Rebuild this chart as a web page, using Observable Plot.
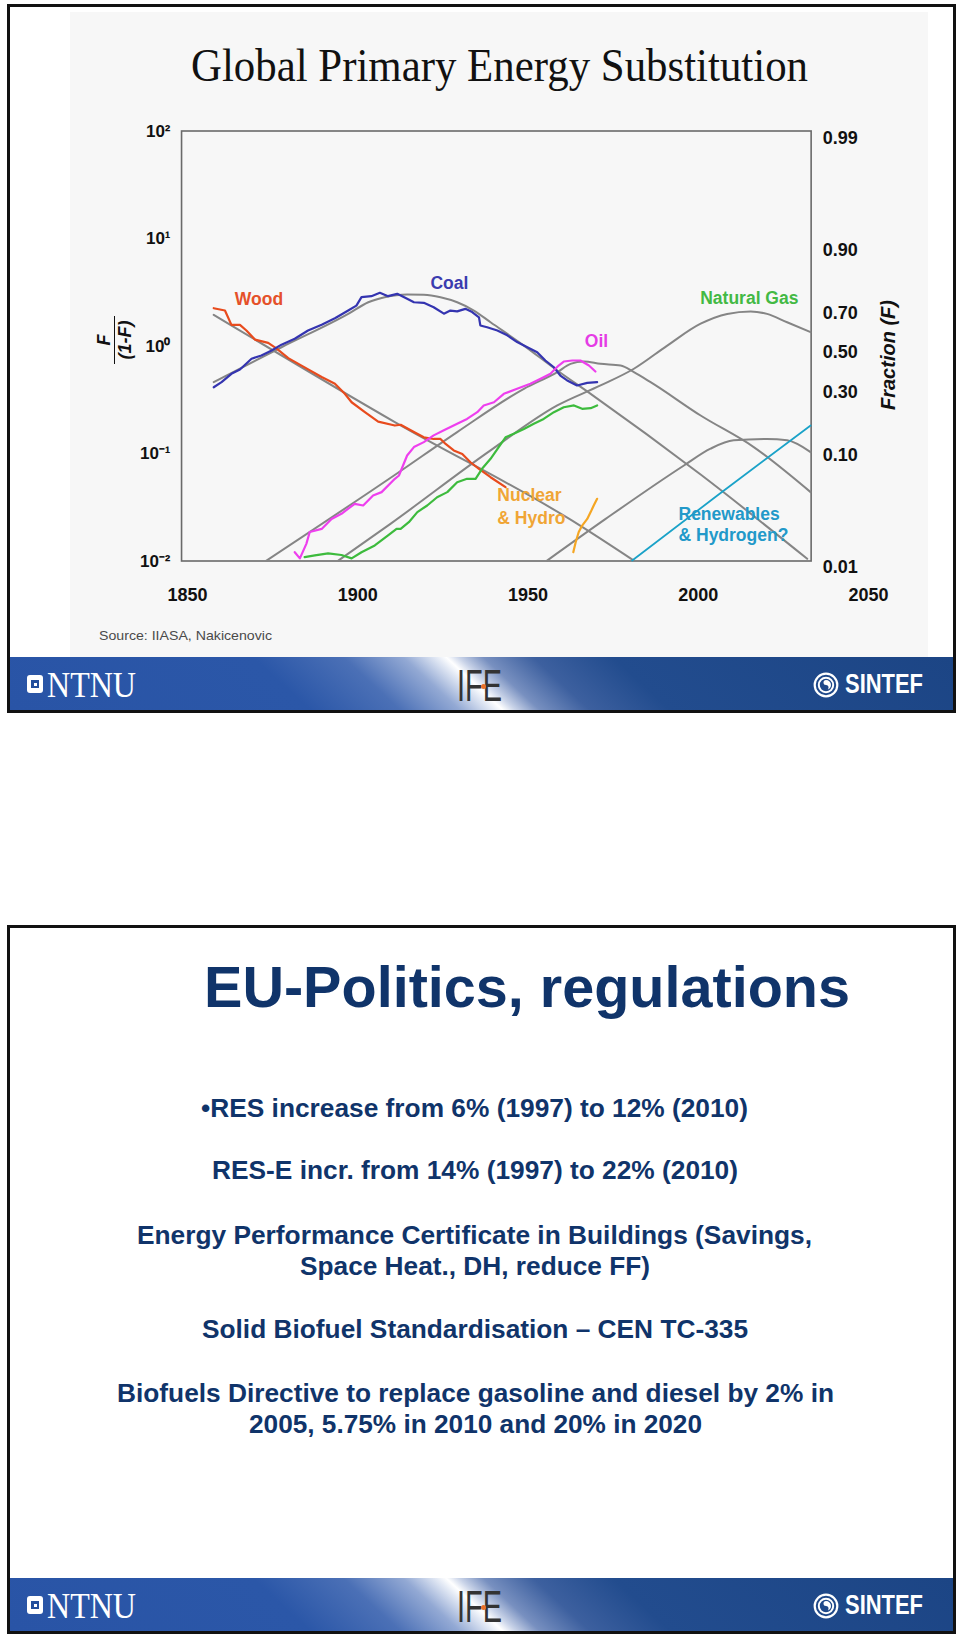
<!DOCTYPE html>
<html>
<head>
<meta charset="utf-8">
<script src="https://cdn.jsdelivr.net/npm/d3@7"></script>
<script src="https://cdn.jsdelivr.net/npm/@observablehq/plot@0.6"></script>
<style>
html,body{margin:0;padding:0;background:#fff;}
body{position:relative;width:960px;height:1641px;overflow:hidden;font-family:"Liberation Sans",Arial,sans-serif;}
.slide{position:absolute;left:7px;width:949px;height:709px;border:3px solid #111;box-sizing:border-box;background:#fff;}
.panel{position:absolute;left:70px;top:12px;width:858px;height:645px;background:#f7f7f7;}
.footer{position:absolute;left:10px;width:943px;height:53px;
  background:linear-gradient(43deg,#2954a6 0%,#2b57a8 30%,#4b70b6 39%,#93a9d4 45%,#e4eaf5 48.3%,#ffffff 49.3%,#c9d3e8 50.6%,#7890c0 53%,#3d609f 58%,#224c8e 66%,#1c4585 100%);}
#chart{position:absolute;left:0;top:0;}
#chart text{font-weight:bold;}
.rot{position:absolute;transform-origin:50% 50%;white-space:nowrap;}
</style>
</head>
<body>
<div class="slide" style="top:4px"></div>
<div class="panel"></div>
<div class="footer" style="top:657px"></div>
<div class="slide" style="top:925px;background:transparent"></div>
<div class="footer" style="top:1578px"></div>
<div id="chart"></div>
<script>
// ---------- data ----------
const xTicks = [1850, 1900, 1950, 2000, 2050];
const yTicks = [0.01, 0.1, 1, 10, 100];
const yTickLabels = ["10\u207B\u00B2", "10\u207B\u00B9", "10\u2070", "10\u00B9", "10\u00B2"];
const fractionTicks = [0.99, 0.90, 0.70, 0.50, 0.30, 0.10, 0.01];
const frameYears = [1848.4, 2033.3];

// historical series: [year, F/(1-F)]
const woodHistory = [[1857.7,2.27],[1861.0,2.16],[1862.9,1.59],[1865.4,1.59],[1867.3,1.41],[1869.8,1.16],[1873.7,1.08],[1876.1,0.96],[1879.6,0.78],[1884.4,0.64],[1889.4,0.52],[1893.3,0.45],[1896.2,0.363],[1898.2,0.303],[1902.1,0.245],[1906.0,0.200],[1910.9,0.184],[1912.6,0.187],[1916.5,0.160],[1919.4,0.143],[1922.3,0.138],[1924.3,0.138],[1925.8,0.124],[1928.2,0.108],[1930.7,0.100],[1933.1,0.0838],[1935.6,0.0728],[1939.0,0.0608],[1943.4,0.0491]];
const coalHistory = [[1857.7,0.418],[1860.0,0.466],[1862.9,0.557],[1865.4,0.611],[1868.8,0.769],[1871.7,0.825],[1874.7,0.918],[1877.6,1.04],[1881.5,1.18],[1885.4,1.41],[1889.4,1.59],[1893.3,1.83],[1897.2,2.16],[1899.6,2.40],[1901.1,2.88],[1904.0,2.94],[1906.5,3.16],[1908.9,2.94],[1911.6,3.09],[1914.5,2.78],[1916.5,2.58],[1919.4,2.55],[1922.3,2.32],[1925.3,2.02],[1927.2,2.16],[1929.2,2.12],[1931.6,2.24],[1933.6,2.09],[1935.6,1.87],[1936.0,1.57],[1938.0,1.51],[1941.0,1.41],[1943.9,1.27],[1946.8,1.10],[1949.8,0.984],[1952.7,0.885],[1955.1,0.741],[1957.6,0.641],[1959.5,0.537],[1961.5,0.483],[1964.4,0.434],[1967.4,0.459],[1970.3,0.466]];
const oilHistory = [[1881.5,0.0122],[1883.0,0.0107],[1884.9,0.0146],[1885.9,0.0188],[1889.4,0.0201],[1892.3,0.0249],[1895.2,0.0278],[1899.1,0.0344],[1901.6,0.0332],[1904.5,0.0411],[1907.0,0.0442],[1910.9,0.0588],[1912.1,0.0631],[1914.5,0.0968],[1916.5,0.116],[1919.4,0.129],[1922.3,0.149],[1925.3,0.166],[1929.2,0.191],[1932.1,0.212],[1935.1,0.245],[1937.0,0.283],[1940.0,0.303],[1942.9,0.363],[1946.8,0.404],[1950.7,0.450],[1953.7,0.501],[1956.6,0.557],[1959.0,0.665],[1960.5,0.725],[1963.0,0.741],[1965.4,0.741],[1967.9,0.665],[1969.8,0.585]];
const gasHistory = [[1884.4,0.0110],[1887.4,0.0114],[1891.3,0.0119],[1895.2,0.0115],[1898.2,0.0107],[1901.1,0.0122],[1905.0,0.0141],[1908.9,0.0175],[1911.4,0.0201],[1912.6,0.0201],[1915.0,0.0232],[1917.5,0.0288],[1920.4,0.0332],[1923.3,0.0396],[1926.3,0.0442],[1929.2,0.0547],[1932.1,0.0588],[1934.6,0.0588],[1936.5,0.0728],[1939.0,0.0902],[1941.4,0.116],[1943.4,0.143],[1945.8,0.154],[1948.8,0.171],[1951.7,0.191],[1954.6,0.212],[1957.6,0.245],[1960.5,0.272],[1963.5,0.283],[1965.9,0.263],[1968.4,0.267],[1970.3,0.283]];
const nuclearHistory = [[1963.3,0.0122],[1964.0,0.0151],[1964.9,0.0188],[1965.9,0.0216],[1967.4,0.0249],[1968.4,0.0288],[1969.3,0.0332],[1970.3,0.0383]];

// logistic substitution model curves (grey) and projection
const woodModel = [[1857.7,1.97],[1910.9,0.198],[1964.5,0.0224],[1981.1,0.0102]];
const coalModel = [[1857.7,0.466],[1877.6,0.984],[1897.2,2.01],[1903.1,2.58],[1907.9,2.87],[1914.5,3.05],[1919.4,3.03],[1924.3,2.87],[1929.2,2.58],[1934.1,2.16],[1939.0,1.68],[1948.8,1.02],[1958.6,0.598],[1968.4,0.363],[2000.7,0.0644],[2032.0,0.0106]];
const oilModel = [[1873.2,0.0102],[1911.4,0.0655],[1929.2,0.160],[1948.8,0.404],[1958.6,0.577],[1962.5,0.690],[1966.4,0.725],[1971.3,0.690],[1977.2,0.665],[1981.1,0.577],[1986.0,0.466],[2000.7,0.228],[2016.3,0.116],[2033.0,0.0442]];
const gasModel = [[1894.3,0.0102],[1909.6,0.0224],[1939.0,0.108],[1958.6,0.283],[1971.3,0.434],[1981.1,0.621],[1990.9,1.02],[2000.7,1.63],[2008.5,2.01],[2015.4,2.12],[2020.2,2.01],[2026.1,1.68],[2033.0,1.36]];
const nuclearModel = [[1955.6,0.0102],[1972.8,0.0249],[1995.8,0.0782],[2003.6,0.112],[2010.4,0.134],[2020.2,0.138],[2026.1,0.134],[2033.0,0.104]];
const renewablesModel = [[1980.6,0.0102],[2005.6,0.0411],[2033.0,0.184]];

// series labels: text, year, value, colour
const centeredLabels = [
  {text:"Wood", year:1871.0, value:2.74, color:"#e5512a"},
  {text:"Coal", year:1926.9, value:3.85, color:"#3b3caf"},
  {text:"Oil", year:1970.1, value:1.11, color:"#e53ce5"},
  {text:"Natural Gas", year:2015.0, value:2.80, color:"#43b944"}
];
const leftLabels = [
  {text:"Nuclear", year:1941.0, value:0.0411, color:"#f0a535"},
  {text:"& Hydro", year:1941.0, value:0.0254, color:"#f0a535"},
  {text:"Renewables", year:1994.2, value:0.0277, color:"#2299c9"},
  {text:"& Hydrogen?", year:1994.2, value:0.0175, color:"#2299c9"}
];

const rows = a => a.map(([year, value]) => ({year, value}));
const grey = "#858585";

const chart = Plot.plot({
  width: 960, height: 620,
  marginLeft: 187, marginRight: 92, marginTop: 131, marginBottom: 59,
  style: {background: "transparent", fontFamily: '"Liberation Sans", Arial, sans-serif', overflow: "visible"},
  x: {domain: [1850, 2050]},
  y: {type: "log", domain: [0.01, 100]},
  marks: [
    Plot.rect([{x1: frameYears[0], x2: frameYears[1], y1: yTicks[0], y2: yTicks[yTicks.length-1]}],
      {x1:"x1", x2:"x2", y1:"y1", y2:"y2", fill:"none", stroke:"#6a6a6a", strokeWidth:1.6}),
    Plot.axisX({ticks: xTicks, tickSize: 0, tickPadding: 27, fontSize: 18, tickFormat: d => String(d), label: null, fill: "#111"}),
    Plot.axisY({ticks: yTicks, tickSize: 0, tickPadding: 17, fontSize: 17, tickFormat: d => yTickLabels[yTicks.indexOf(d)], label: null, fill: "#111"}),
    Plot.text(fractionTicks, {x: () => frameYears[1], y: f => f / (1 - f), text: f => f.toFixed(2), textAnchor: "start", dx: 11, dy: 6, fontSize: 18, fill: "#111"}),
    ...[woodModel, coalModel, oilModel, gasModel, nuclearModel].map(m =>
      Plot.line(rows(m), {x:"year", y:"value", stroke: grey, strokeWidth: 2, curve: "monotone-x"})),
    Plot.line(rows(renewablesModel), {x:"year", y:"value", stroke:"#1aa2c8", strokeWidth: 1.8}),
    Plot.line(rows(woodHistory), {x:"year", y:"value", stroke:"#e84b1d", strokeWidth: 2.2}),
    Plot.line(rows(coalHistory), {x:"year", y:"value", stroke:"#3434b0", strokeWidth: 2.2}),
    Plot.line(rows(oilHistory), {x:"year", y:"value", stroke:"#ee3fee", strokeWidth: 2.2}),
    Plot.line(rows(gasHistory), {x:"year", y:"value", stroke:"#3dbb3d", strokeWidth: 2.2}),
    Plot.line(rows(nuclearHistory), {x:"year", y:"value", stroke:"#f5a623", strokeWidth: 2.2}),
    Plot.text(centeredLabels, {x:"year", y:"value", text:"text", fill: d => d.color, fontSize: 17.5, textAnchor:"middle", lineAnchor:"middle"}),
    Plot.text(leftLabels, {x:"year", y:"value", text:"text", fill: d => d.color, fontSize: 17.5, textAnchor:"start", lineAnchor:"middle"})
  ],
  color: {type: "identity"}
});
document.getElementById("chart").appendChild(chart);

// ---------- page texts ----------
const SANS = '"Liberation Sans", Arial, sans-serif';
const SERIF = '"Liberation Serif", "Times New Roman", serif';
function fitText(text, o) {
  const d = document.createElement("div");
  d.textContent = text;
  d.style.cssText = `position:absolute;white-space:nowrap;line-height:1;transform-origin:0 0;left:0;top:0;` +
    `font-family:${o.family || SANS};font-size:${o.size}px;font-weight:${o.weight || "bold"};` +
    `font-style:${o.style || "normal"};color:${o.color || "#000"};`;
  document.body.appendChild(d);
  const w = d.getBoundingClientRect().width;
  const k = (o.x2 - o.x1) / w;
  const asc = (o.family === SERIF) ? 0.8375 : 0.8465;
  d.style.left = o.x1 + "px";
  d.style.top = (o.baseline - asc * o.size) + "px";
  d.style.transform = `scaleX(${k})`;
  return d;
}

// slide 1
fitText("Global Primary Energy Substitution", {x1:191, x2:808, baseline:82, size:46, family:SERIF, weight:"normal", color:"#111"});
fitText("Source: IIASA, Nakicenovic", {x1:99, x2:272, baseline:640, size:13.5, weight:"normal", color:"#4a4a4a"});

// left axis title: F / (1-F), rotated
const yt = document.createElement("div");
yt.className = "rot";
yt.style.cssText += `left:${116-28}px;top:${340-22}px;width:56px;height:44px;transform:rotate(-90deg);font:italic bold 18px ${SANS};color:#111;text-align:center;line-height:20px;`;
yt.innerHTML = `<div>F</div><div style="width:48px;margin:0 auto;border-top:1.6px solid #111"></div><div>(1-F)</div>`;
document.body.appendChild(yt);

// right axis title
const rt = document.createElement("div");
rt.className = "rot";
rt.textContent = "Fraction (F)";
rt.style.cssText += `left:${889-70}px;top:${355-12}px;width:140px;height:24px;line-height:24px;text-align:center;transform:rotate(-90deg);font:italic bold 20px ${SANS};color:#111;`;
document.body.appendChild(rt);

// footers (logos)
function footer(top) {
  const icon = document.createElement("div");
  icon.style.cssText = `position:absolute;left:27px;top:${top+18}px;width:16px;height:18px;background:#fff;border-radius:3px;`;
  icon.innerHTML = `<div style="position:absolute;left:4px;top:5px;width:8px;height:8px;background:#234f9c"></div><div style="position:absolute;left:6.5px;top:7.5px;width:3px;height:3px;background:#fff"></div>`;
  document.body.appendChild(icon);
  fitText("NTNU", {x1:47, x2:136, baseline: top+40, size:36, family:SERIF, weight:"normal", color:"#fff"});
  fitText("IFE", {x1:457, x2:502, baseline: top+44, size:44, weight:"normal", color:"#333"});
  const dot = document.createElement("div");
  dot.style.cssText = `position:absolute;left:481px;top:${top+27}px;width:5px;height:5px;border-radius:50%;background:#e8702a;`;
  document.body.appendChild(dot);
  const logo = document.createElement("div");
  logo.style.cssText = `position:absolute;left:813px;top:${top+15}px;width:26px;height:26px;`;
  logo.innerHTML = `<svg width="26" height="26" viewBox="0 0 26 26"><circle cx="13" cy="13" r="11.3" fill="none" stroke="#fff" stroke-width="2.2"/><circle cx="13" cy="13" r="7.2" fill="none" stroke="#fff" stroke-width="2"/><path d="M13 8 A5 5 0 0 1 13 18 A2.5 2.5 0 0 0 13 13 A2.5 2.5 0 0 1 13 8Z" fill="#fff"/></svg>`;
  document.body.appendChild(logo);
  fitText("SINTEF", {x1:845, x2:923, baseline: top+37, size:27, color:"#fff"});
}
footer(657);
footer(1578);

// slide 2
const NAVY = "#10346a";
fitText("EU-Politics, regulations", {x1:204, x2:850, baseline:1007, size:58, color:NAVY});
const slide2Lines = [
  ["\u2022RES increase from 6% (1997) to 12% (2010)", 201, 748, 1109],
  ["RES-E incr. from 14% (1997) to 22% (2010)", 212, 738, 1171],
  ["Energy Performance Certificate in Buildings (Savings,", 137, 812, 1236],
  ["Space Heat., DH, reduce FF)", 300, 650, 1267],
  ["Solid Biofuel Standardisation \u2013 CEN TC-335", 202, 748, 1330],
  ["Biofuels Directive to replace gasoline and diesel by 2% in", 117, 834, 1394],
  ["2005, 5.75% in 2010 and 20% in 2020", 249, 702, 1425]
];
for (const [t, x1, x2, cy] of slide2Lines) {
  fitText(t, {x1, x2, baseline: cy + 9, size: 25.5, color: NAVY});
}
</script>
</body>
</html>
